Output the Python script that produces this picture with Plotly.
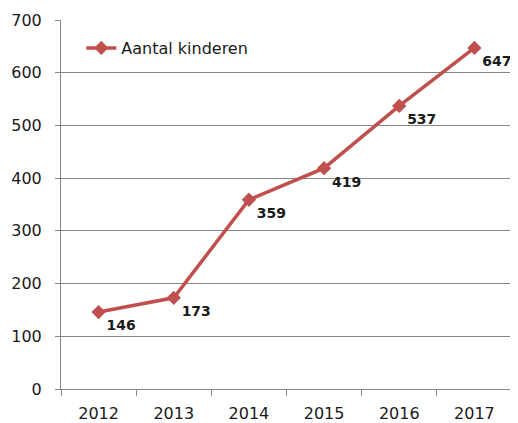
import plotly.graph_objects as go

years = ["2012", "2013", "2014", "2015", "2016", "2017"]
values = [146, 173, 359, 419, 537, 647]
series_name = "Aantal kinderen"

fig = go.Figure()
fig.add_trace(go.Scatter(
    x=years, y=values, name=series_name,
    mode="lines+markers+text",
    line=dict(color="#C0504D", width=3.5),
    marker=dict(symbol="diamond", size=11, color="#C0504D"),
    text=[str(v) for v in values],
    textposition="bottom right",
    cliponaxis=False,
    textfont=dict(family="DejaVu Sans", size=14, color="#1a1a1a", weight="bold"),
))

# page body has an 8px default margin; size the figure so the plot area lands
# at the same absolute position as in the reference
fig.update_layout(
    width=510, height=415,
    margin=dict(l=53, r=6, t=12, b=34),
    paper_bgcolor="white", plot_bgcolor="white",
    showlegend=True,
    legend=dict(x=0.045, y=0.924, xanchor="left", yanchor="middle",
                font=dict(family="DejaVu Sans", size=16, color="#1a1a1a"),
                bgcolor="rgba(0,0,0,0)"),
    xaxis=dict(type="category", range=[-0.5, 5.5], tickson="boundaries",
               ticks="outside", ticklen=6, tickcolor="#868686",
               showline=True, linecolor="#868686", linewidth=1,
               showgrid=False, automargin=False, ticklabelstandoff=10,
               tickfont=dict(family="DejaVu Sans", size=16, color="#1a1a1a")),
    yaxis=dict(range=[0, 700], dtick=100, ticks="outside", ticklen=5,
               tickcolor="#868686", showline=True, linecolor="#868686",
               linewidth=1, showgrid=True, gridcolor="#868686", gridwidth=1,
               zeroline=False, automargin=False, ticklabelstandoff=10,
               tickfont=dict(family="DejaVu Sans", size=16, color="#1a1a1a")),
)

fig.write_html("out.html")
